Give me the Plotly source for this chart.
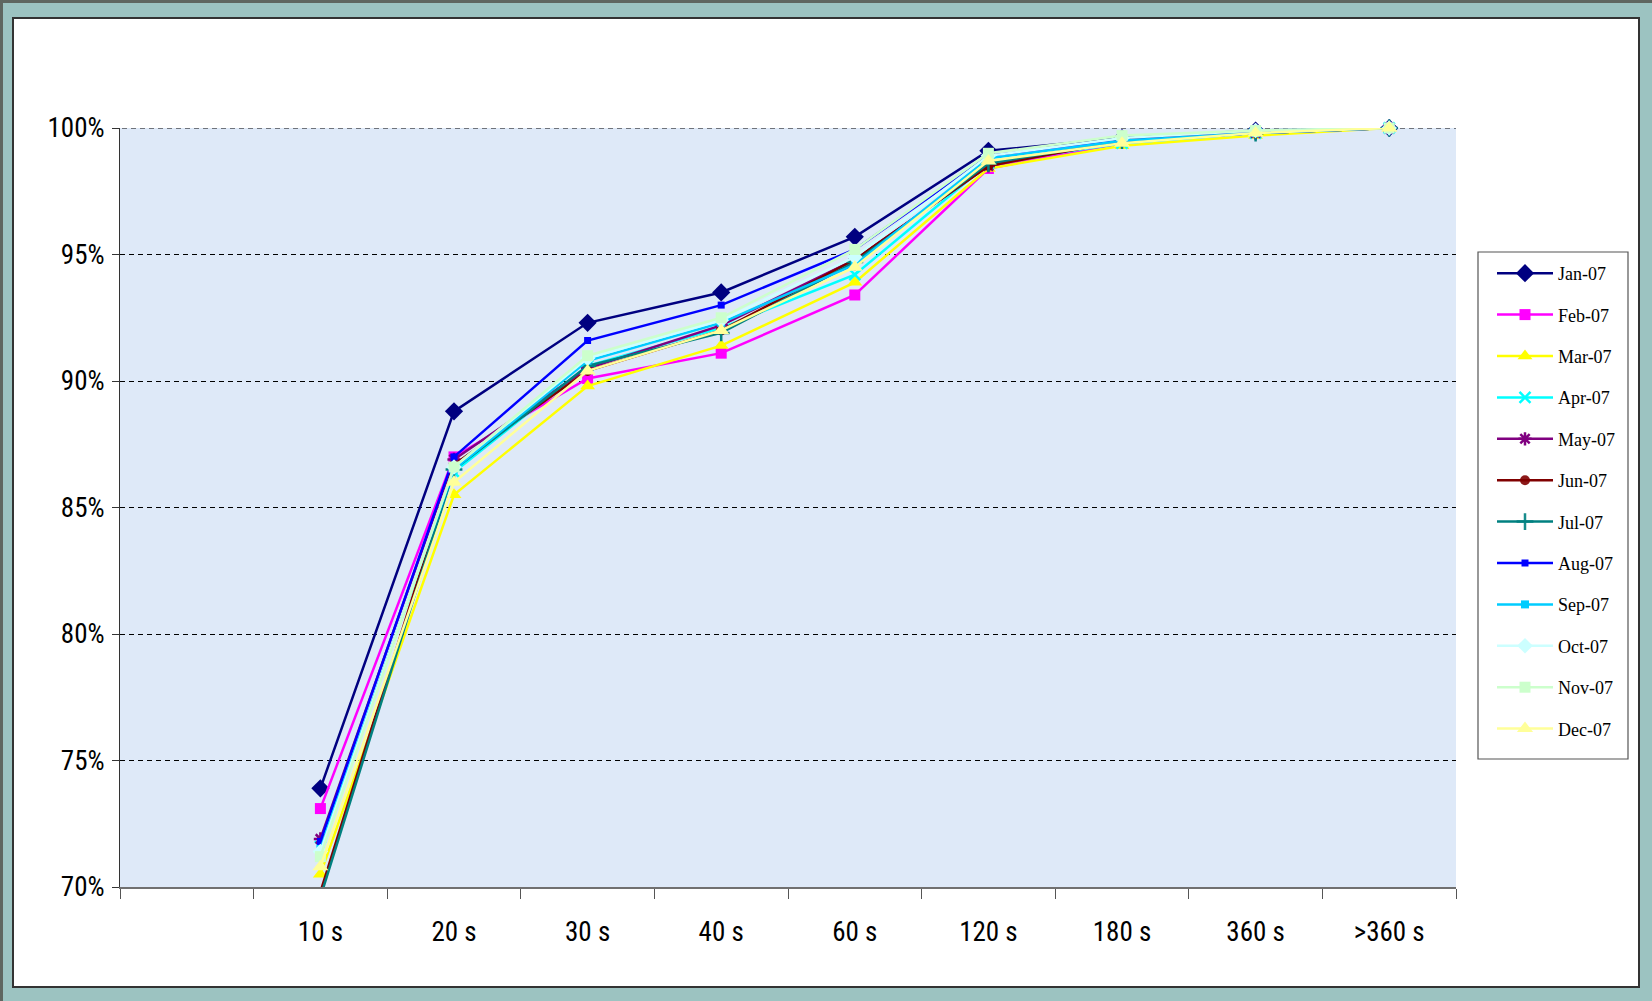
import plotly.graph_objects as go

# Response-time buckets (the first slot on the axis is left empty)
categories = [" ", "10 s", "20 s", "30 s", "40 s", "60 s", "120 s", "180 s", "360 s", ">360 s"]

# Cumulative share of calls answered within each bucket, in percent
jan_07 = [73.9, 88.8, 92.3, 93.5, 95.7, 99.1, 99.6, 99.9, 100.0]
feb_07 = [73.1, 87.0, 90.1, 91.1, 93.4, 98.4, 99.4, 99.8, 100.0]
mar_07 = [70.5, 85.5, 89.8, 91.4, 93.9, 98.4, 99.3, 99.7, 100.0]
apr_07 = [71.6, 86.4, 90.6, 92.1, 94.2, 98.6, 99.4, 99.8, 100.0]
may_07 = [71.9, 86.9, 90.5, 92.2, 94.8, 98.5, 99.5, 99.8, 100.0]
jun_07 = [69.8, 86.7, 90.4, 92.0, 94.8, 98.5, 99.5, 99.8, 100.0]
jul_07 = [69.6, 86.5, 90.6, 91.9, 94.7, 98.6, 99.5, 99.8, 100.0]
aug_07 = [71.8, 87.0, 91.6, 93.0, 95.2, 98.9, 99.5, 99.8, 100.0]
sep_07 = [71.5, 86.5, 90.8, 92.3, 94.6, 98.8, 99.5, 99.8, 100.0]
oct_07 = [71.4, 86.6, 90.9, 92.4, 94.9, 98.9, 99.6, 99.9, 100.0]
nov_07 = [71.2, 86.6, 91.0, 92.5, 95.2, 99.0, 99.7, 99.9, 100.0]
dec_07 = [70.8, 86.0, 90.4, 92.0, 94.5, 98.7, 99.4, 99.8, 100.0]

series_names = ["Jan-07", "Feb-07", "Mar-07", "Apr-07", "May-07", "Jun-07",
                "Jul-07", "Aug-07", "Sep-07", "Oct-07", "Nov-07", "Dec-07"]
series_values = [jan_07, feb_07, mar_07, apr_07, may_07, jun_07,
                 jul_07, aug_07, sep_07, oct_07, nov_07, dec_07]

y_ticks = [70, 75, 80, 85, 90, 95, 100]
y_tick_labels = ["70%", "75%", "80%", "85%", "90%", "95%", "100%"]

# Styling for each month: colour, marker symbol, marker size
styles = [
    ("#000080", "diamond", 14),
    ("#FF00FF", "square", 11),
    ("#FFFF00", "triangle-up", 13),
    ("#00FFFF", "x-thin", 11),
    ("#800080", "asterisk", 11),
    ("#800000", "circle", 10),
    ("#008080", "cross-thin", 12),
    ("#0000FF", "square", 7),
    ("#00CCFF", "square", 8),
    ("#CCFFFF", "diamond", 12),
    ("#CCFFCC", "square", 11),
    ("#FFFF99", "triangle-up", 14),
]

Y_MIN, Y_MAX = 70, 100

AXIS_FONT = "Liberation Sans Narrow, Arial Narrow, Roboto Condensed, DejaVu Sans Condensed, sans-serif"

W, H = 1652, 1001
L, R, T, B = 120, 196, 128, 114
PW, PH = W - L - R, H - T - B


def px_x(x):
    return (x - L) / PW


def px_y(y):
    return (H - B - y) / PH


fig = go.Figure()

for name, vals, (color, symbol, size) in zip(series_names, series_values, styles):
    thin = symbol in ("x-thin", "cross-thin", "asterisk")
    fig.add_trace(go.Scatter(
        x=categories,
        y=[None] + vals,
        name=name,
        legendgroup=name,
        mode="lines+markers",
        cliponaxis=False,
        line=dict(color=color, width=2.5),
        marker=dict(
            symbol=symbol,
            size=size,
            color=color,
            opacity=[1] + [0 if v < Y_MIN else 1 for v in vals],
            line=dict(color=color, width=2.5 if thin else 0),
        ),
    ))

shapes = [
    # outer frame edges
    dict(type="rect", xref="paper", yref="paper", layer="below",
         x0=px_x(0), x1=px_x(W), y0=px_y(0), y1=px_y(3),
         fillcolor="#5f6660", line=dict(width=0)),
    dict(type="rect", xref="paper", yref="paper", layer="below",
         x0=px_x(0), x1=px_x(3), y0=px_y(0), y1=px_y(H),
         fillcolor="#5f6660", line=dict(width=0)),
    # white chart panel
    dict(type="rect", xref="paper", yref="paper", layer="below",
         x0=px_x(13), x1=px_x(1639), y0=px_y(987), y1=px_y(18),
         fillcolor="white", line=dict(color="#333333", width=2)),
    # plot area fill
    dict(type="rect", xref="paper", yref="paper", layer="below",
         x0=0, x1=1, y0=0, y1=1,
         fillcolor="#DEE9F8", line=dict(width=0)),
    # top gridline at 100%
    dict(type="line", xref="paper", yref="y", layer="below",
         x0=px_x(113), x1=1, y0=Y_MAX, y1=Y_MAX,
         line=dict(color="black", width=1, dash="5px,4px")),
    # legend box
    dict(type="rect", xref="paper", yref="paper", layer="above",
         x0=px_x(1478), x1=px_x(1628), y0=px_y(759), y1=px_y(252),
         fillcolor="white", line=dict(color="#555555", width=1.2)),
]

fig.update_layout(
    width=W, height=H,
    margin=dict(l=L, r=R, t=T, b=B, pad=0),
    paper_bgcolor="#9CC3C1",
    plot_bgcolor="rgba(0,0,0,0)",
    shapes=shapes,
    showlegend=True,
    legend=dict(
        x=px_x(1492), y=px_y(255), xanchor="left", yanchor="top",
        bgcolor="rgba(0,0,0,0)", borderwidth=0,
        font=dict(family="Liberation Serif, Times New Roman, serif", size=18, color="black"),
        tracegroupgap=15,
        itemwidth=56,
    ),
    xaxis=dict(
        type="category",
        categoryorder="array",
        categoryarray=categories,
        range=[-0.5, len(categories) - 0.5],
        tickson="boundaries",
        ticks="outside",
        ticklen=10,
        tickcolor="#555555",
        tickwidth=1,
        showline=True,
        linecolor="#707070",
        linewidth=2,
        showgrid=False,
        tickfont=dict(family=AXIS_FONT, size=27, color="black"),
        ticklabelstandoff=20,
        fixedrange=True,
    ),
    yaxis=dict(
        range=[Y_MIN, Y_MAX],
        tickvals=y_ticks,
        ticktext=y_tick_labels,
        ticks="outside",
        ticklen=7,
        tickcolor="#333333",
        tickwidth=1,
        showline=True,
        linecolor="#333333",
        linewidth=1,
        showgrid=True,
        gridcolor="black",
        gridwidth=1,
        griddash="5px,4px",
        zeroline=False,
        tickfont=dict(family=AXIS_FONT, size=27, color="black"),
        ticklabelstandoff=2,
        fixedrange=True,
    ),
)

fig.write_html("out.html")
